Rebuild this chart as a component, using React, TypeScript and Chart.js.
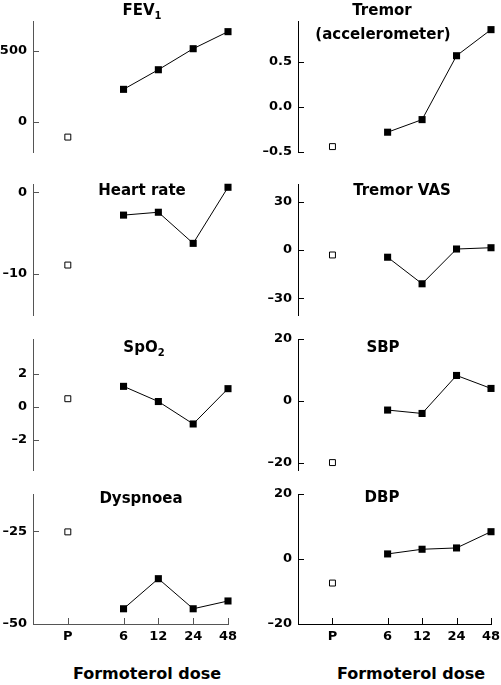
import React, { useEffect, useRef } from "react";
import { Chart, registerables } from "chart.js";

Chart.register(...registerables);

// ---- data ----
const doseLabels = ["P", "6", "12", "24", "48"];
const dosePositions = [0, 1.6, 2.6, 3.6, 4.6];

const fev1Placebo = -106;
const fev1Formoterol = [230, 368, 516, 636];
const fev1Ticks = [0, 500];

const tremorPlacebo = -0.44;
const tremorFormoterol = [-0.28, -0.14, 0.57, 0.86];
const tremorTicks = [-0.5, 0, 0.5];

const heartPlacebo = -8.9;
const heartFormoterol = [-2.8, -2.45, -6.25, 0.6];
const heartTicks = [-10, 0];

const tremorVasPlacebo = -3.1;
const tremorVasFormoterol = [-4.5, -21, 0.6, 1.4];
const tremorVasTicks = [-30, 0, 30];

const spo2Placebo = 0.5;
const spo2Formoterol = [1.25, 0.33, -1.03, 1.11];
const spo2Ticks = [-2, 0, 2];

const sbpPlacebo = -20;
const sbpFormoterol = [-3.0, -4.1, 8.2, 4.0];
const sbpTicks = [-20, 0, 20];

const dyspnoeaPlacebo = -25.2;
const dyspnoeaFormoterol = [-45.9, -37.8, -45.9, -43.8];
const dyspnoeaTicks = [-50, -25];

const dbpPlacebo = -7.4;
const dbpFormoterol = [1.56, 3.0, 3.4, 8.4];
const dbpTicks = [-20, 0, 20];

type Panel = {
  key: string;
  col: 0 | 1;
  top: number;
  bottom: number;
  min: number;
  max: number;
  ticks: number[];
  decimals: number;
  placebo: number;
  formoterol: number[];
  bottomAxis: boolean;
};

const panels: Panel[] = [
  { key: "fev1", col: 0, top: 21, bottom: 152, min: -211, max: 711, ticks: fev1Ticks, decimals: 0, placebo: fev1Placebo, formoterol: fev1Formoterol, bottomAxis: false },
  { key: "tremor", col: 1, top: 21, bottom: 152, min: -0.5, max: 0.956, ticks: tremorTicks, decimals: 1, placebo: tremorPlacebo, formoterol: tremorFormoterol, bottomAxis: false },
  { key: "heart", col: 0, top: 184, bottom: 315, min: -15, max: 1, ticks: heartTicks, decimals: 0, placebo: heartPlacebo, formoterol: heartFormoterol, bottomAxis: false },
  { key: "tremorvas", col: 1, top: 184, bottom: 315, min: -40.4, max: 41, ticks: tremorVasTicks, decimals: 0, placebo: tremorVasPlacebo, formoterol: tremorVasFormoterol, bottomAxis: false },
  { key: "spo2", col: 0, top: 339, bottom: 470, min: -3.82, max: 4.12, ticks: spo2Ticks, decimals: 0, placebo: spo2Placebo, formoterol: spo2Formoterol, bottomAxis: false },
  { key: "sbp", col: 1, top: 339, bottom: 470, min: -22.4, max: 20, ticks: sbpTicks, decimals: 0, placebo: sbpPlacebo, formoterol: sbpFormoterol, bottomAxis: false },
  { key: "dyspnoea", col: 0, top: 494, bottom: 624, min: -50, max: -15, ticks: dyspnoeaTicks, decimals: 0, placebo: dyspnoeaPlacebo, formoterol: dyspnoeaFormoterol, bottomAxis: true },
  { key: "dbp", col: 1, top: 494, bottom: 624, min: -20, max: 20, ticks: dbpTicks, decimals: 0, placebo: dbpPlacebo, formoterol: dbpFormoterol, bottomAxis: true },
];

const FONT = "'DejaVu Sans', sans-serif";
const colGeom = [
  { left: 0, width: 250, axisW: 33, padRight: 22, color: "#555555" },
  { left: 250, width: 251, axisW: 48, padRight: 10, color: "#000000" },
];

const fmt = (v: number, d: number) => {
  const s = Math.abs(v).toFixed(d);
  return v < 0 ? "\u2013" + s : s;
};

function PanelChart({ p }: { p: Panel }) {
  const ref = useRef<HTMLCanvasElement | null>(null);
  const g = colGeom[p.col];
  const padTop = 14;
  const padBottom = p.bottomAxis ? 0 : 14;
  const xH = p.bottomAxis ? 30 : 0;
  const canvasTop = p.top - padTop;
  const height = p.bottom - p.top + padTop + padBottom + xH;

  useEffect(() => {
    if (!ref.current) return;
    const color = g.color;
    const tickMarks = {
      id: "innerTicks",
      afterDraw(chart: any) {
        const ctx = chart.ctx;
        const area = chart.chartArea;
        const ys = chart.scales.y;
        ctx.save();
        ctx.strokeStyle = color;
        ctx.lineWidth = 1;
        ctx.beginPath();
        p.ticks.forEach((v) => {
          const y = Math.round(ys.getPixelForValue(v)) + 0.5;
          ctx.moveTo(area.left, y);
          ctx.lineTo(area.left + 6, y);
        });
        if (p.bottomAxis) {
          const xs = chart.scales.x;
          dosePositions.forEach((v) => {
            const x = Math.round(xs.getPixelForValue(v)) + 0.5;
            ctx.moveTo(x, area.bottom);
            ctx.lineTo(x, area.bottom - 6);
          });
        }
        ctx.stroke();
        ctx.restore();
      },
    };

    const chart = new Chart(ref.current, {
      type: "line",
      data: {
        datasets: [
          {
            data: p.formoterol.map((y, i) => ({ x: dosePositions[i + 1], y })),
            borderColor: "#000",
            borderWidth: 1,
            pointStyle: "rect",
            pointRadius: 5,
            pointBackgroundColor: "#000",
            pointBorderColor: "#000",
            pointBorderWidth: 0,
            showLine: true,
            clip: false,
          } as any,
          {
            data: [{ x: dosePositions[0], y: p.placebo }],
            showLine: false,
            pointStyle: "rect",
            pointRadius: 4.2,
            pointBackgroundColor: "#fff",
            pointBorderColor: "#000",
            pointBorderWidth: 1,
            clip: false,
          } as any,
        ],
      },
      options: {
        animation: false,
        responsive: false,
        maintainAspectRatio: false,
        events: [],
        layout: { padding: { top: padTop, bottom: padBottom, left: 0, right: g.padRight } },
        plugins: { legend: { display: false }, tooltip: { enabled: false }, title: { display: false } },
        scales: {
          x: {
            type: "linear",
            min: -1,
            max: 4.6,
            display: p.bottomAxis,
            grid: { display: false, drawTicks: false },
            border: { display: true, color: color, width: 1 },
            ticks: {
              padding: 5,
              color: "#000",
              font: { family: FONT, weight: "bold", size: 13 },
              maxRotation: 0,
              autoSkip: false,
              callback: (v: any) => {
                const i = dosePositions.indexOf(Number(v));
                return i >= 0 ? doseLabels[i] : "";
              },
            },
            afterBuildTicks: (s: any) => {
              s.ticks = dosePositions.map((v) => ({ value: v }));
            },
            afterFit: (s: any) => {
              s.height = xH;
              s.paddingLeft = 0;
              s.paddingRight = 0;
            },
          } as any,
          y: {
            type: "linear",
            min: p.min,
            max: p.max,
            grid: { display: false, drawTicks: false },
            border: { display: true, color: color, width: 1 },
            ticks: {
              padding: 6,
              color: "#000",
              font: { family: FONT, weight: "bold", size: 13 },
              autoSkip: false,
              callback: (v: any) => fmt(Number(v), p.decimals),
            },
            afterBuildTicks: (s: any) => {
              s.ticks = p.ticks.map((v) => ({ value: v }));
            },
            afterFit: (s: any) => {
              s.width = g.axisW;
              s.paddingTop = 0;
              s.paddingBottom = 0;
            },
          } as any,
        },
      },
      plugins: [tickMarks as any],
    });
    return () => chart.destroy();
  }, []);

  return (
    <canvas
      ref={ref}
      width={g.width}
      height={height}
      style={{ position: "absolute", left: g.left, top: canvasTop, width: g.width, height }}
    />
  );
}

const titleStyle = (cx: number, top: number, size = 15): React.CSSProperties => ({
  position: "absolute",
  left: cx,
  top,
  transform: "translateX(-50%)",
  fontFamily: FONT,
  fontWeight: "bold",
  fontSize: size,
  lineHeight: `${size}px`,
  whiteSpace: "nowrap",
  color: "#000",
});

const subStyle: React.CSSProperties = { fontSize: 10, verticalAlign: "-4px", lineHeight: "10px" };

export default function App() {
  useEffect(() => {
    document.body.style.margin = "0";
  }, []);
  return (
    <div style={{ position: "absolute", left: 0, top: 0, width: 501, height: 685, background: "#fff", overflow: "hidden" }}>
      {panels.map((p) => (
        <PanelChart key={p.key} p={p} />
      ))}
      <div style={titleStyle(142, 3)}>FEV<span style={subStyle}>1</span></div>
      <div style={titleStyle(382, 3)}>Tremor</div>
      <div style={titleStyle(383, 27)}>(accelerometer)</div>
      <div style={titleStyle(142, 183)}>Heart rate</div>
      <div style={titleStyle(402, 183)}>Tremor VAS</div>
      <div style={titleStyle(144, 340)}>SpO<span style={subStyle}>2</span></div>
      <div style={titleStyle(383, 340)}>SBP</div>
      <div style={titleStyle(141, 491)}>Dyspnoea</div>
      <div style={titleStyle(382, 490)}>DBP</div>
      <div style={titleStyle(147, 666, 16)}>Formoterol dose</div>
      <div style={titleStyle(411, 666, 16)}>Formoterol dose</div>
    </div>
  );
}
